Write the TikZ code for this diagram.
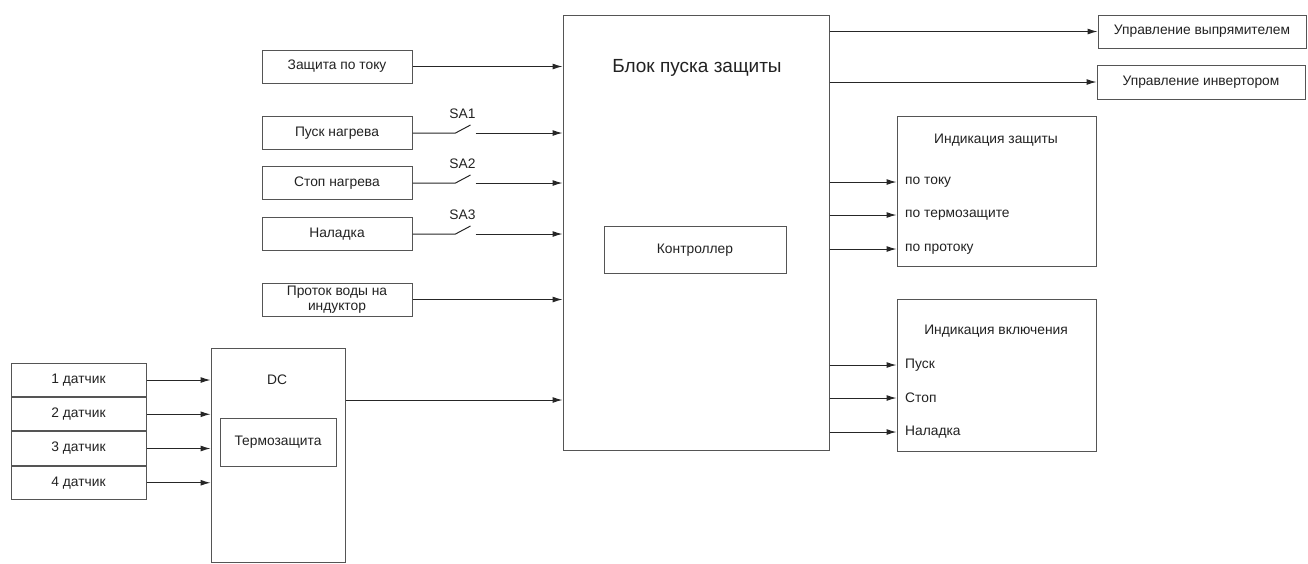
\documentclass[tikz,border=0pt]{standalone}
\usepackage{fontspec}
\setmainfont{Liberation Sans}
\usetikzlibrary{arrows.meta,calc}
\definecolor{bordc}{HTML}{555555}
\definecolor{txtc}{HTML}{222222}
\tikzset{
  blk/.style={draw=bordc, line width=1pt, fill=white, inner sep=0pt, text=txtc, font=\fontsize{13.8}{15}\selectfont, align=center},
  lbl/.style={inner sep=0pt, text=txtc, font=\fontsize{13.8}{15}\selectfont},
  arr/.style={draw=black!85, line width=1pt, -{Latex[length=10pt,width=6pt]}},
  wire/.style={draw=black!85, line width=1pt},
}
\begin{document}
\begin{tikzpicture}[x=1pt,y=-1pt]
\useasboundingbox (0,0) rectangle (1308,563);
% main block
\node[blk, minimum width=266, minimum height=435] (main) at (696,232.5) {};
\node[lbl, font=\fontsize{19}{22}\selectfont] (title) at (697,68) {Блок пуска защиты};
\node[blk, minimum width=182, minimum height=47] (ctrl) at (695,250) {Контроллер};
% top right outputs
\node[blk, minimum width=208, minimum height=33] (rect) at (1202,31.5) {Управление выпрямителем};
\node[blk, minimum width=208, minimum height=34] (inv) at (1201,82) {Управление инвертором};
\draw[arr] (main.east |- rect) -- (rect.west);
\draw[arr] (main.east |- inv) -- (inv.west);
% indication of protection
\node[blk, minimum width=199, minimum height=150] (ind1) at (996.5,191) {};
\node[lbl] (ind1t) at (996,140) {Индикация защиты};
\node[lbl, anchor=west] (i11) at (905,182) {по току};
\node[lbl, anchor=west] (i12) at (905,215) {по термозащите};
\node[lbl, anchor=west] (i13) at (905,249) {по протоку};
\foreach \i in {i11,i12,i13} \draw[arr] (main.east |- \i) -- (ind1.west |- \i);
% indication of switching on
\node[blk, minimum width=199, minimum height=152] (ind2) at (996.5,375) {};
\node[lbl] (ind2t) at (996,331) {Индикация включения};
\node[lbl, anchor=west] (i21) at (905,365) {Пуск};
\node[lbl, anchor=west] (i22) at (905,398) {Стоп};
\node[lbl, anchor=west] (i23) at (905,432) {Наладка};
\foreach \i in {i21,i22,i23} \draw[arr] (main.east |- \i) -- (ind2.west |- \i);
% left inputs
\node[blk, minimum width=150, minimum height=33] (zt) at (337,66.5) {Защита по току};
\node[blk, minimum width=150, minimum height=33] (pn) at (337,133) {Пуск нагрева};
\node[blk, minimum width=150, minimum height=33] (sn) at (337,183) {Стоп нагрева};
\node[blk, minimum width=150, minimum height=33] (nl) at (337,234) {Наладка};
\node[blk, minimum width=150, minimum height=33, font=\fontsize{13.8}{14.5}\selectfont] (pv) at (337,299.5) {Проток воды на\\индуктор};
\draw[arr] (zt.east) -- (main.west |- zt);
\draw[arr] (pv.east) -- (main.west |- pv);
% switches
\foreach \b/\n/\s in {pn/1/SA1, sn/2/SA2, nl/3/SA3}{
  \coordinate (a\n) at ($(\b.east)+(43,0)$);
  \coordinate (c\n) at ($(\b.east)+(58,-8)$);
  \coordinate (o\n) at ($(\b.east)+(63,0)$);
  \draw[wire] (\b.east) -- (a\n) -- (c\n);
  \draw[arr] (o\n) -- (main.west |- o\n);
  \node[lbl] (sa\n) at ($(\b.east)+(50,-19)$) {\s};
}
% sensors
\node[blk, minimum width=135, minimum height=33.25] (d1) at (78.5,380) {1 датчик};
\node[blk, minimum width=135, minimum height=33.25, anchor=north] (d2) at (d1.south) {2 датчик};
\node[blk, minimum width=135, minimum height=33.25, anchor=north] (d3) at (d2.south) {3 датчик};
\node[blk, minimum width=135, minimum height=33.25, anchor=north] (d4) at (d3.south) {4 датчик};
% DC block
\node[blk, minimum width=134, minimum height=214] (dc) at (278,455) {};
\node[lbl] (dct) at (277,380) {DC};
\node[blk, minimum width=116, minimum height=48] (tz) at (278,442) {Термозащита};
\foreach \d in {d1,d2,d3,d4} \draw[arr] (\d.east) -- (dc.west |- \d);
\coordinate (dco) at (dc.east |- 0,400);
\draw[arr] (dco) -- (main.west |- dco);
\end{tikzpicture}
\end{document}
